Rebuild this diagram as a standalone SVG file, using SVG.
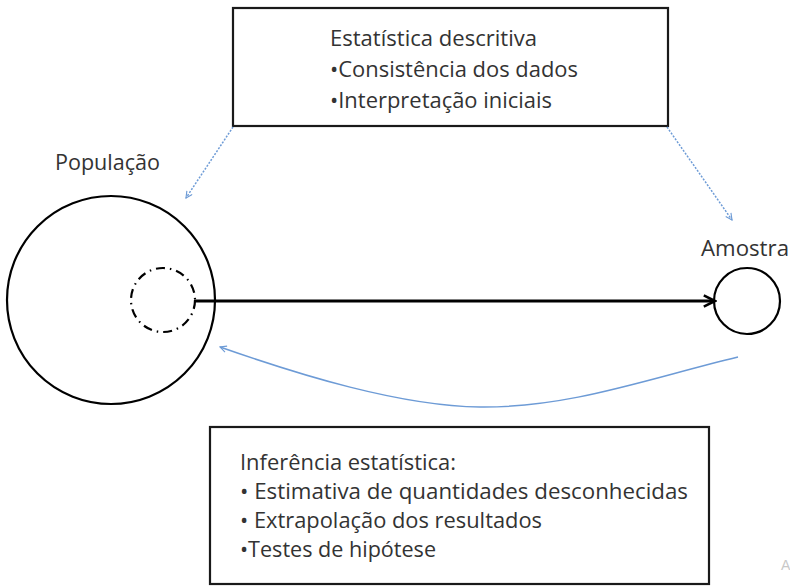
<svg xmlns="http://www.w3.org/2000/svg" width="790" height="587" viewBox="0 0 790 587">
<defs>
<style>
.t{font-family:"Open Sans","Liberation Sans",sans-serif;font-size:22px;fill:#333;}
.box{fill:#fff;stroke:#1a1a1a;stroke-width:2.2;}
.blue{fill:none;stroke:#6d9bd6;stroke-width:1.5;}
</style>
<marker id="ab" viewBox="0 0 10 10" refX="9" refY="5" markerWidth="8" markerHeight="8" markerUnits="userSpaceOnUse" orient="auto">
<path d="M1,1 L9,5 L1,9" fill="none" stroke="#6d9bd6" stroke-width="1.4"/>
</marker>
<marker id="ak" viewBox="0 0 10 10" refX="9" refY="5" markerWidth="16" markerHeight="16" markerUnits="userSpaceOnUse" orient="auto">
<path d="M2,1.5 L9,5 L2,8.5" fill="none" stroke="#000" stroke-width="1.6"/>
</marker>
</defs>
<rect width="790" height="587" fill="#fff"/>
<g id="descritiva">
<rect class="box" x="233" y="8" width="435" height="118"/>
<text class="t" x="330" y="46" textLength="207" lengthAdjust="spacingAndGlyphs">Estatística descritiva</text>
<text class="t" x="330" y="77" textLength="248" lengthAdjust="spacingAndGlyphs">•Consistência dos dados</text>
<text class="t" x="330" y="108" textLength="222" lengthAdjust="spacingAndGlyphs">•Interpretação iniciais</text>
</g>
<g id="populacao">
<circle cx="111" cy="300" r="104" fill="none" stroke="#000" stroke-width="2.2"/>
<circle cx="163" cy="300" r="32" fill="none" stroke="#000" stroke-width="2.2" stroke-dasharray="9,5,1.5,5"/>
<text class="t" x="55" y="170" textLength="105" lengthAdjust="spacingAndGlyphs">População</text>
</g>
<g id="amostra">
<circle cx="747" cy="301" r="33" fill="none" stroke="#000" stroke-width="2.2"/>
<text class="t" x="701" y="256" textLength="88" lengthAdjust="spacingAndGlyphs">Amostra</text>
</g>
<g id="inferencia">
<rect class="box" x="210" y="427" width="499" height="157"/>
<text class="t" x="240" y="470" textLength="216" lengthAdjust="spacingAndGlyphs">Inferência estatística:</text>
<text class="t" x="240" y="499" textLength="448" lengthAdjust="spacingAndGlyphs">• Estimativa de quantidades desconhecidas</text>
<text class="t" x="240" y="528" textLength="302" lengthAdjust="spacingAndGlyphs">• Extrapolação dos resultados</text>
<text class="t" x="240" y="557" textLength="196" lengthAdjust="spacingAndGlyphs">•Testes de hipótese</text>
</g>
<g id="connectors">
<line x1="194" y1="301" x2="715" y2="301" stroke="#000" stroke-width="3" marker-end="url(#ak)"/>
<line class="blue" x1="233" y1="127" x2="186" y2="198" stroke-dasharray="2,1.5" marker-end="url(#ab)"/>
<line class="blue" x1="667" y1="127" x2="732" y2="220" stroke-dasharray="2,1.5" marker-end="url(#ab)"/>
<path class="blue" d="M738,357 C650,378 570,408 480,407 C400,406 300,375 220,347" marker-end="url(#ab)"/>
</g>
<text x="781" y="570" font-family="Liberation Sans,sans-serif" font-size="14" fill="#c8c8c8">A</text>
</svg>
